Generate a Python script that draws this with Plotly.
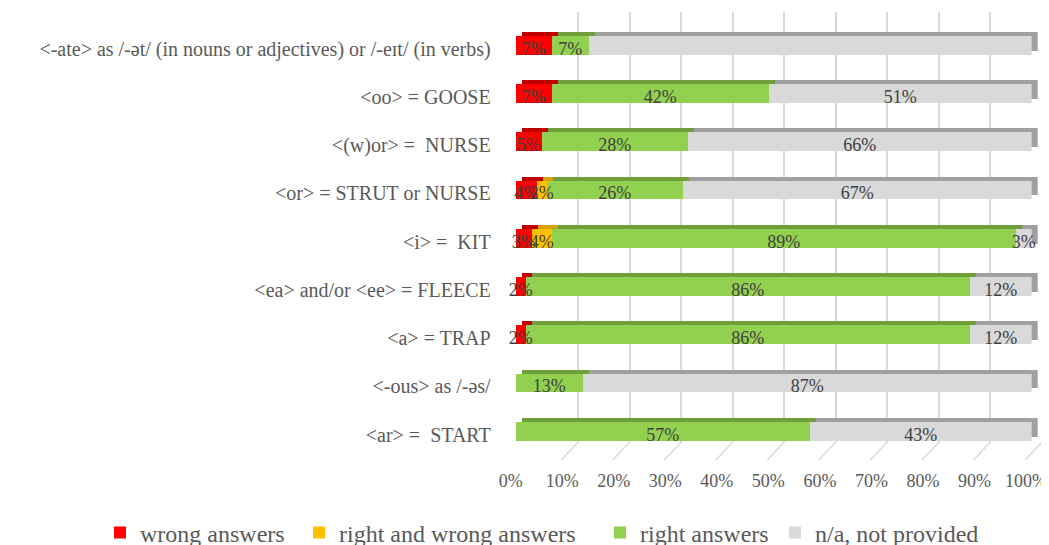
import plotly.graph_objects as go

# ---------------- data ----------------
categories = [
    "<-ate> as /-ət/ (in nouns or adjectives) or /-eɪt/ (in verbs)",
    "<oo> = GOOSE",
    "<(w)or> =  NURSE",
    "<or> = STRUT or NURSE",
    "<i> =  KIT",
    "<ea> and/or <ee> = FLEECE",
    "<a> = TRAP",
    "<-ous> as /-əs/",
    "<ar> =  START",
]
wrong_answers = [7, 7, 5, 4, 3, 2, 2, 0, 0]
right_and_wrong_answers = [0, 0, 0, 2, 4, 0, 0, 0, 0]
right_answers = [7, 42, 28, 26, 89, 86, 86, 13, 57]
not_provided = [85, 51, 66, 67, 3, 12, 12, 87, 43]
series_names = ["wrong answers", "right and wrong answers", "right answers", "n/a, not provided"]
tick_values = [0, 10, 20, 30, 40, 50, 60, 70, 80, 90, 100]
tick_labels = ["0%", "10%", "20%", "30%", "40%", "50%", "60%", "70%", "80%", "90%", "100%"]

# ---------------- style ----------------
front_colors = ["#FF0000", "#FFC000", "#92D050", "#D9D9D9"]
top_colors = ["#C00000", "#D9A200", "#6F9E3A", "#A0A0A0"]
FONT = "Liberation Serif"
OFF = 8          # page body margin in the browser
W, H = 1049, 545


def fx(p):
    return (p - OFF) / W


def fy(p):
    return 1 - (p - OFF) / H


def esc(s):
    s = s.replace("&", "&amp;").replace("<", "&lt;").replace(">", "&gt;")
    return s.replace("  ", " \u00a0")


series = [wrong_answers, right_and_wrong_answers, right_answers, not_provided]
n = len(categories)
rows = list(range(n))

# geometry (window pixels)
front_left, front_right = 515.7, 1031.7
row_first, row_last = 45.5, 431.7
step = (row_last - row_first) / (n - 1)
f_top, f_bot = row_first - step / 2, row_last + step / 2
dx, dy = 6.0, -4.5          # depth of the 3D bars
text_dy = 3.0               # data labels sit slightly low in the reference
grid_left, grid_right = 526.7, 1042.0
grid_top, grid_bot = 12.0, 442.0

fig = go.Figure()

# back copy (top/side faces of the 3D bars)
for vals, name, col in zip(series, series_names, top_colors):
    fig.add_trace(go.Bar(
        y=rows, x=vals, orientation="h", name=name, showlegend=False,
        marker=dict(color=col, line=dict(width=0)), width=0.39,
        xaxis="x2", yaxis="y2", hoverinfo="skip",
    ))

# front faces
legend_ids = ["legend", "legend2", "legend3", "legend4"]
for vals, name, col, lg in zip(series, series_names, front_colors, legend_ids):
    fig.add_trace(go.Bar(
        y=rows, x=vals, orientation="h", name=name,
        marker=dict(color=col, line=dict(width=0)), width=0.39,
        xaxis="x3", yaxis="y3", legend=lg,
    ))

# data labels (transparent copy, slightly lower)
for vals, name in zip(series, series_names):
    fig.add_trace(go.Bar(
        y=rows, x=vals, orientation="h", name=name, showlegend=False,
        marker=dict(color="rgba(0,0,0,0)", line=dict(width=0)), width=0.39,
        text=[f"{v}%" if v else "" for v in vals],
        textposition="inside", insidetextanchor="middle", textangle=0,
        textfont=dict(family=FONT, size=18, color="#404040"),
        constraintext="none", cliponaxis=False, hoverinfo="skip",
        xaxis="x4", yaxis="y4",
    ))

# floor diagonals under grid lines
shapes = []
for t in tick_values:
    shapes.append(dict(
        type="line", xref="x", yref="paper",
        xsizemode="pixel", xanchor=t, x0=0, x1=-17,
        ysizemode="pixel", yanchor=fy(grid_bot), y0=0, y1=-18,
        line=dict(color="#D9D9D9", width=1.5), layer="below",
    ))

legend_text_x = [140, 339, 640, 815]
legends = {}
for lg, tx in zip(legend_ids, legend_text_x):
    legends[lg] = dict(
        x=fx(tx - 40), y=fy(533), xanchor="left", yanchor="middle",
        orientation="h", bgcolor="rgba(0,0,0,0)", borderwidth=0,
        font=dict(family=FONT, size=24, color="#595959"),
        itemwidth=30,
    )

hidden = dict(showgrid=False, zeroline=False, showticklabels=False, showline=False,
              automargin=False)

fig.update_layout(
    width=W, height=H,
    margin=dict(l=0, r=0, t=0, b=0, autoexpand=False),
    paper_bgcolor="white", plot_bgcolor="rgba(0,0,0,0)",
    font=dict(family=FONT),
    barmode="stack", barnorm="percent", bargap=0,
    uniformtext=dict(mode="show", minsize=18),
    shapes=shapes,
    # grid (back wall)
    xaxis=dict(
        domain=[fx(grid_left), fx(grid_right)], range=[0, 100], anchor="y",
        tickvals=tick_values, ticktext=tick_labels,
        showgrid=True, gridcolor="#D9D9D9", gridwidth=1.5,
        zeroline=False, showline=False, ticks="", automargin=False,
        ticklabelshift=-16, ticklabelstandoff=26, ticklabeloverflow="allow",
        tickfont=dict(family=FONT, size=18, color="#595959"),
    ),
    yaxis=dict(domain=[fy(grid_bot), fy(grid_top)], range=[0, 1], anchor="x", **hidden),
    # back copy
    xaxis2=dict(domain=[fx(front_left + dx), fx(front_right + dx)], range=[0, 100],
                anchor="y2", **hidden),
    yaxis2=dict(domain=[fy(f_bot + dy), fy(f_top + dy)], range=[n - 0.5, -0.5],
                anchor="x2", **hidden),
    # front faces
    xaxis3=dict(domain=[fx(front_left), fx(front_right)], range=[0, 100],
                anchor="y3", **hidden),
    yaxis3=dict(
        domain=[fy(f_bot), fy(f_top)], range=[n - 0.5, -0.5], anchor="x3",
        tickvals=rows, ticktext=[esc(c) for c in categories],
        showgrid=False, zeroline=False, showline=False, ticks="", automargin=False,
        ticklabelstandoff=24, ticklabelshift=-3, ticklabeloverflow="allow",
        tickfont=dict(family=FONT, size=20, color="#595959"),
    ),
    # label layer
    xaxis4=dict(domain=[fx(front_left), fx(front_right)], range=[0, 100],
                anchor="y4", **hidden),
    yaxis4=dict(domain=[fy(f_bot + text_dy), fy(f_top + text_dy)], range=[n - 0.5, -0.5],
                anchor="x4", **hidden),
    **legends,
)

fig.write_html("out.html")
